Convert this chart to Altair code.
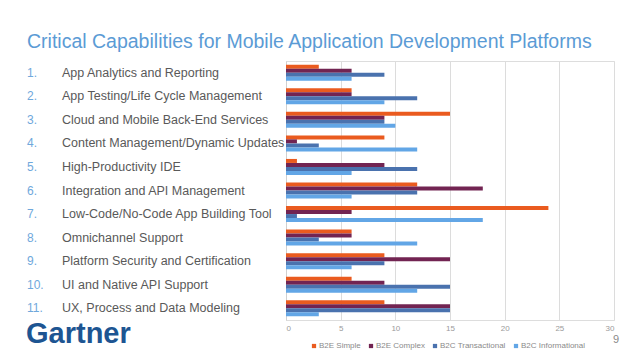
import altair as alt
import pandas as pd

categories = [
    "App Analytics and Reporting",
    "App Testing/Life Cycle Management",
    "Cloud and Mobile Back-End Services",
    "Content Management/Dynamic Updates",
    "High-Productivity IDE",
    "Integration and API Management",
    "Low-Code/No-Code App Building Tool",
    "Omnichannel Support",
    "Platform Security and Certification",
    "UI and Native API Support",
    "UX, Process and Data Modeling",
]
numbers = [f"{i}." for i in range(1, 12)]
series = ["B2E Simple", "B2E Complex", "B2C Transactional", "B2C Informational"]
b2e_simple = [3, 6, 15, 9, 1, 12, 24, 6, 9, 6, 9]
b2e_complex = [6, 6, 9, 1, 9, 18, 6, 6, 15, 9, 15]
b2c_transactional = [9, 12, 9, 3, 12, 12, 1, 3, 9, 15, 15]
b2c_informational = [6, 9, 10, 12, 6, 6, 18, 12, 6, 12, 3]
colors = ["#EA5B1F", "#722452", "#4A72AE", "#62A6E6"]
x_ticks = [0, 5, 10, 15, 20, 25, 30]
title_text = "Critical Capabilities for Mobile Application Development Platforms"

rows = []
for s, vals in zip(series, [b2e_simple, b2e_complex, b2c_transactional, b2c_informational]):
    for c, v in zip(categories, vals):
        rows.append({"cat": c, "series": s, "value": v})
df = pd.DataFrame(rows)
labels_df = pd.DataFrame({"cat": categories, "num": numbers})

FONT = "Liberation Sans"

y_enc = alt.Y("cat:N", sort=categories,
              scale=alt.Scale(paddingInner=0.32, paddingOuter=0.16),
              axis=alt.Axis(labels=False, ticks=False, title=None, grid=False,
                            domain=True, domainColor="#d0d0d0"))

bars = alt.Chart(df).mark_bar().encode(
    x=alt.X("value:Q", scale=alt.Scale(domain=[0, 30], nice=False),
            axis=alt.Axis(values=x_ticks, title=None, domain=False, ticks=False,
                          grid=True, gridColor="#dcdcdc", labelColor="#9a9a9a",
                          labelFontSize=8, labelFont=FONT, labelPadding=4)),
    y=y_enc,
    yOffset=alt.YOffset("series:N", sort=series),
    color=alt.Color("series:N", sort=series,
                    scale=alt.Scale(domain=series, range=colors),
                    legend=alt.Legend(orient="none", legendX=24, legendY=281,
                                      direction="horizontal", title=None,
                                      symbolType="square", symbolSize=18,
                                      labelFontSize=8, labelColor="#8a8a8a",
                                      labelFont=FONT, labelOffset=1,
                                      columnPadding=6, symbolStrokeWidth=0)),
)

nums = alt.Chart(labels_df).mark_text(align="left", baseline="middle", fontSize=12,
                                      font=FONT, color="#6FA8DC").encode(
    y=alt.Y("cat:N", sort=categories), x=alt.value(-259), text="num:N")

cat_text = alt.Chart(labels_df).mark_text(align="left", baseline="middle", fontSize=12.5,
                                          font=FONT, color="#595959").encode(
    y=alt.Y("cat:N", sort=categories), x=alt.value(-224), text="cat:N")

title = alt.Chart(pd.DataFrame({"t": [title_text]})).mark_text(
    align="left", baseline="middle", fontSize=19.5, font=FONT, color="#5B9BD5").encode(
    x=alt.value(-259), y=alt.value(-19), text="t:N")

logo = alt.Chart(pd.DataFrame({"t": ["Gartner"]})).mark_text(
    align="left", baseline="alphabetic", fontSize=29, fontWeight="bold", font=FONT,
    color="#1D5592").encode(x=alt.value(-260), y=alt.value(282), text="t:N")

page = alt.Chart(pd.DataFrame({"t": ["9"]})).mark_text(
    align="center", baseline="middle", fontSize=11, font=FONT, color="#8a8a8a").encode(
    x=alt.value(330), y=alt.value(279), text="t:N")

chart = alt.layer(bars, nums, cat_text, title, logo, page).properties(
    width=328, height=259,
    autosize=alt.AutoSizeParams(type="none"),
    padding={"left": 278, "top": 53, "right": 16, "bottom": 32},
).configure_view(stroke=None).configure(background="white")

chart.save("out.html", embed_options={"renderer": "svg", "actions": False})
